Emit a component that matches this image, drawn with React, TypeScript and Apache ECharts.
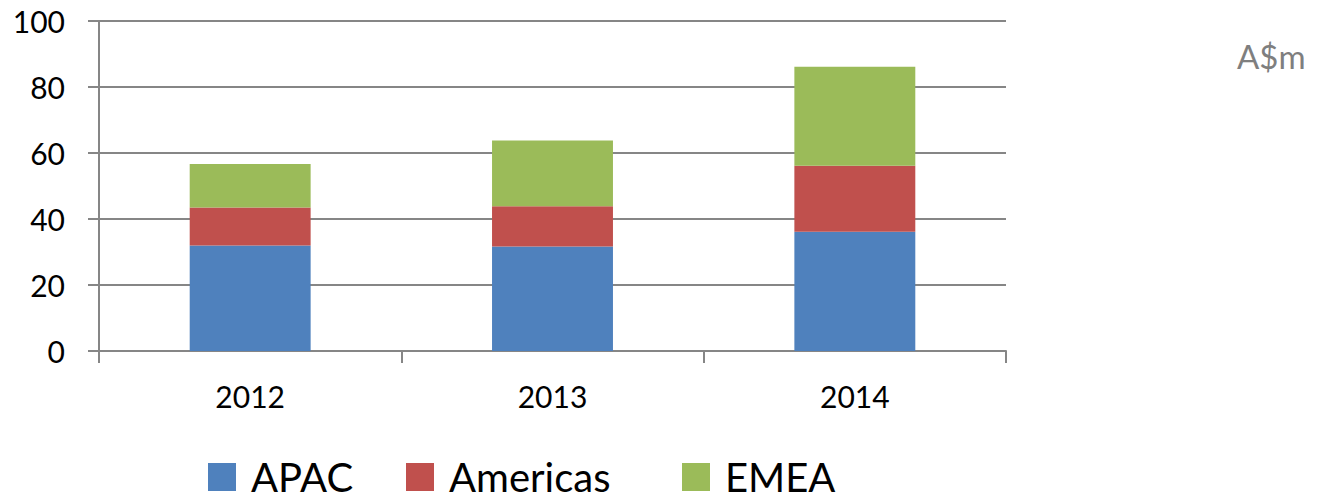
import React, { useEffect, useRef } from "react";
import * as echarts from "echarts";

const years = ["2012", "2013", "2014"];
const apac = [32.0, 31.7, 36.1];
const americas = [11.5, 12.2, 20.0];
const emea = [13.2, 19.9, 30.0];
const seriesNames = ["APAC", "Americas", "EMEA"];
const colors = ["#4F81BD", "#C0504D", "#9BBB59"];
const unitLabel = "A$m";

// room reserved for each legend label so the swatches sit evenly apart
const legendLabelWidths = [110, 188, 120];

const FONT = "Lato, 'Open Sans', sans-serif";
const GRID_GREY = "#868686";

export default function App() {
  const ref = useRef<HTMLDivElement>(null);

  useEffect(() => {
    if (!ref.current) return;
    const chart = echarts.init(ref.current, undefined, { renderer: "svg" });
    const values = [apac, americas, emea];
    chart.setOption({
      animation: false,
      backgroundColor: "#ffffff",
      grid: { left: 99, right: 321, top: 21, bottom: 149, containLabel: false },
      legend: {
        left: 203,
        top: 452,
        itemWidth: 28,
        itemHeight: 28,
        itemGap: 45,
        icon: "rect",
        textStyle: {
          fontFamily: FONT,
          fontSize: 40,
          lineHeight: 40,
          color: "#000",
          padding: [0, 0, 0, 10],
        },
        data: seriesNames.map((name, i) => ({
          name,
          textStyle: { width: legendLabelWidths[i] },
        })),
      },
      xAxis: {
        type: "category",
        data: years,
        axisLine: { show: true, lineStyle: { color: GRID_GREY, width: 2 } },
        axisTick: { show: true, length: 12, lineStyle: { color: GRID_GREY, width: 2 } },
        axisLabel: { fontFamily: FONT, fontSize: 30, color: "#000", margin: 30 },
      },
      yAxis: {
        type: "value",
        min: 0,
        max: 100,
        interval: 20,
        axisLine: { show: true, lineStyle: { color: GRID_GREY, width: 2 } },
        axisTick: { show: true, length: 11, lineStyle: { color: GRID_GREY, width: 2 } },
        splitLine: { show: true, lineStyle: { color: GRID_GREY, width: 2 } },
        axisLabel: { fontFamily: FONT, fontSize: 30, color: "#000", margin: 34 },
      },
      graphic: [
        {
          type: "text",
          left: 1237,
          top: 39,
          style: { text: unitLabel, fontFamily: FONT, fontSize: 33, fill: "#7f7f7f" },
        },
      ],
      series: seriesNames.map((name, i) => ({
        name,
        type: "bar",
        stack: "total",
        barWidth: "40%",
        data: values[i],
        itemStyle: { color: colors[i] },
      })),
    });
    return () => chart.dispose();
  }, []);

  return (
    <div
      ref={ref}
      style={{ position: "fixed", left: 0, top: 0, width: 1327, height: 500 }}
    />
  );
}
